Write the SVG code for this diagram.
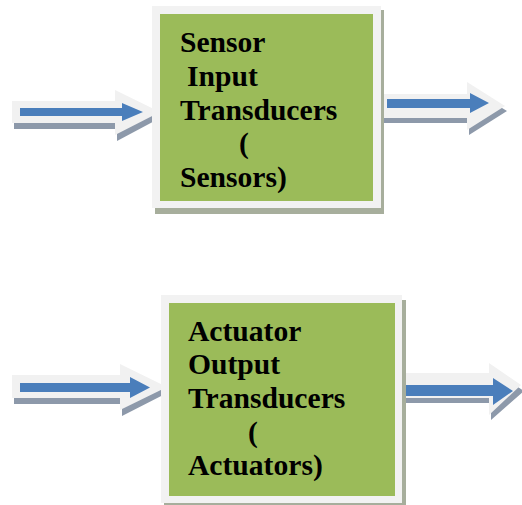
<svg xmlns="http://www.w3.org/2000/svg" width="522" height="505" viewBox="0 0 522 505">
<style>
.frame{fill:#f2f2f2;}
.green{fill:#9bbb59;}
.bshadow{fill:#a7ae9c;}
.glow{fill:#f1f1f1;}
.ashadow{fill:#8d99aa;}
.blue{fill:#4a7ebb;}
.lbl{font-family:"Liberation Serif","Times New Roman",serif;font-weight:bold;font-size:29.6px;fill:#000;}
</style>
<rect width="522" height="505" fill="#fff"/>
<g id="connectors">
  <g id="arrow-in-top">
    <polygon class="ashadow" points="14,107 117,107 117,96 162,117 117,141 117,129 14,129"/>
    <polygon class="glow" points="12,101 115,101 115,90 160,112 115,135 115,123 12,123"/>
    <polygon class="blue" points="20,108 122,108 122,103 143,112 122,121 122,116 20,116"/>
  </g>
  <g id="arrow-out-top">
    <polygon class="ashadow" points="384,100 469,100 469,88 507,111 469,135 469,123 384,123"/>
    <polygon class="glow" points="382,94 467,94 467,82 505,106 467,130 467,118 382,118"/>
    <polygon class="blue" points="387,99 470,99 470,93 489,103 470,113 470,108 387,108"/>
  </g>
  <g id="arrow-in-bottom">
    <polygon class="ashadow" points="14,381 122,381 122,370 169,392 122,416 122,404 14,404"/>
    <polygon class="glow" points="12,375 120,375 120,364 167,387 120,410 120,398 12,398"/>
    <polygon class="blue" points="20,383 130,383 130,377 150,387.5 130,398 130,392 20,392"/>
  </g>
  <g id="arrow-out-bottom">
    <polygon class="ashadow" points="405,379 491,379 491,369 524,391 491,420 491,403 405,403"/>
    <polygon class="glow" points="403,373 489,373 489,363 521,385 489,415 489,398 403,398"/>
    <polygon class="blue" points="405,385 493,385 493,378 513,391 493,405 493,396 405,396"/>
  </g>
</g>
<g id="node-sensor">
  <rect class="bshadow" x="155" y="10" width="229" height="204"/>
  <rect class="frame" x="152" y="6" width="229" height="202"/>
  <rect class="green" x="160" y="14" width="213" height="187"/>
  <text class="lbl" x="180" y="52">Sensor</text>
  <text class="lbl" x="187" y="86">Input</text>
  <text class="lbl" x="180" y="120">Transducers</text>
  <text class="lbl" x="239" y="153">(</text>
  <text class="lbl" x="180" y="187">Sensors)</text>
</g>
<g id="node-actuator">
  <rect class="bshadow" x="164" y="300" width="242" height="205"/>
  <rect class="frame" x="161" y="295" width="241" height="208"/>
  <rect class="green" x="169" y="303" width="226" height="193"/>
  <text class="lbl" x="188" y="341">Actuator</text>
  <text class="lbl" x="188" y="374">Output</text>
  <text class="lbl" x="188" y="408">Transducers</text>
  <text class="lbl" x="248" y="442">(</text>
  <text class="lbl" x="188" y="475">Actuators)</text>
</g>
</svg>
